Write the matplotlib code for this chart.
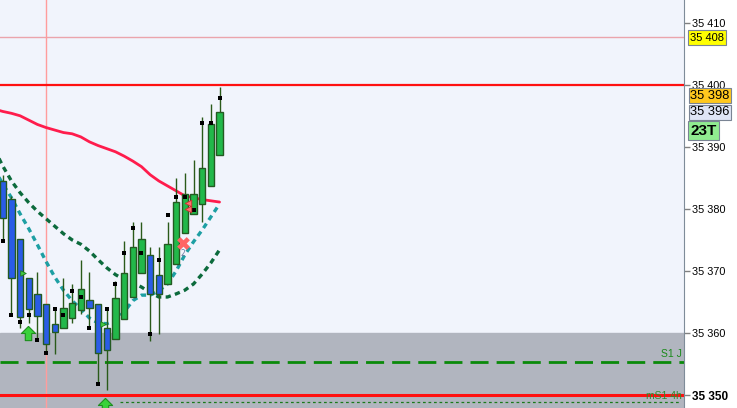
## IMPORTS
import numpy as np
import matplotlib.pyplot as plt
from matplotlib.path import Path

## CANDLE DATA (OHLC), ONE ENTRY PER BAR
opens = [35384.5, 35381.6, 35375.2, 35368.9, 35366.3, 35364.7, 35361.5, 35360.8, 35362.4, 35363.7,
         35365.3, 35364.7, 35360.8, 35359.0, 35362.3, 35365.8, 35369.7, 35372.6, 35369.4, 35367.9,
         35371.1, 35376.1, 35379.2, 35380.8, 35383.7, 35388.7]
highs = [35385.5, 35382.0, 35375.2, 35368.9, 35369.8, 35364.7, 35364.0, 35368.9, 35367.9, 35371.8,
         35369.8, 35364.7, 35364.0, 35368.4, 35374.8, 35377.9, 35377.9, 35373.9, 35373.9, 35377.9,
         35385.0, 35385.8, 35387.9, 35394.8, 35396.9, 35399.7]
lows = [35374.8, 35362.9, 35360.8, 35361.6, 35358.7, 35356.8, 35356.6, 35360.8, 35361.6, 35363.0,
        35360.8, 35351.8, 35350.8, 35359.0, 35362.3, 35365.8, 35369.7, 35358.7, 35359.8, 35367.9,
        35371.1, 35376.1, 35379.2, 35377.9, 35383.7, 35388.7]
closes = [35378.5, 35368.9, 35362.6, 35363.9, 35362.7, 35358.2, 35360.2, 35364.0, 35364.8, 35367.1,
          35364.0, 35356.8, 35357.3, 35365.6, 35369.7, 35373.9, 35375.2, 35366.3, 35366.3, 35374.4,
          35381.1, 35382.4, 35382.4, 35386.6, 35393.7, 35395.6]

## BLACK SQUARE MARKERS, ONE PER BAR
dots = [35374.8, 35362.9, 35361.8, 35362.9, 35358.9, 35356.8, 35363.9, 35362.9, 35366.8, 35365.8,
        35360.8, 35351.8, 35363.9, 35367.9, 35372.9, 35376.9, 35372.9, 35359.8, 35371.8, 35379.0,
        35381.9, 35381.9, 35379.8, 35393.9, 35393.9, 35397.9]

## MOVING AVERAGES (START ONE BAR BEFORE THE FIRST CANDLE)
ma_idx = list(range(-1, 26))
ma_red = [35396.1, 35395.7, 35395.4, 35395.0, 35394.3, 35393.6, 35393.1, 35392.7, 35392.3, 35392.1,
          35391.6, 35390.8, 35390.2, 35389.7, 35389.2, 35388.5, 35387.7, 35386.8, 35385.5, 35384.5,
          35383.7, 35382.9, 35382.1, 35381.8, 35381.5, 35381.3, 35381.1]
ma_dkgreen = [35389.7, 35386.9, 35384.5, 35382.6, 35381.0, 35379.6, 35378.4, 35377.2, 35376.0, 35375.0,
              35374.3, 35373.2, 35371.8, 35370.5, 35369.4, 35368.6, 35368.1, 35367.4, 35366.5, 35365.8,
              35365.8, 35366.3, 35366.9, 35367.9, 35369.5, 35371.3, 35373.4]
ma_teal = [35386.5, 35384.0, 35381.8, 35379.2, 35376.8, 35374.2, 35371.5, 35369.0, 35366.9, 35365.2,
           35363.9, 35362.4, 35361.6, 35361.5, 35362.1, 35363.4, 35365.2, 35366.1, 35366.1, 35366.8,
           35367.9, 35370.0, 35372.6, 35374.7, 35376.6, 35378.7, 35380.8]

## LEVELS
level_top = 35400
level_bottom = 35350
level_s1j = 35355.3
level_ms1 = 35348.9
level_pink = 35407.7
zone_top = 35360
price_ticks = [35350, 35360, 35370, 35380, 35390, 35400, 35410]

## SIGNALS
up_arrows_x = [2.9, 11.8]
up_arrows_y = [35360.0, 35348.4]
flags_x = [2.3, 11.55]
flags_y = [35369.7, 35361.5]
cross_x, cross_y = 20.8, 35374.5
tri_x = [21.4, 21.4]
tri_y = [35380.9, 35380.0]
vline_x = 5

## FIGURE AND AXES
fig = plt.figure(figsize=(7.37, 4.08), dpi=100)
ax = fig.add_axes([0, 0, 684 / 737, 1])
ax.set_facecolor('#f1f4fc')
ax.set_xlim(-0.32, 78.57)
ax.set_ylim(35347.91, 35413.66)

## GREY ZONE UNDER 35360
ax.axhspan(35300, zone_top, color='#b1b5bf', zorder=0)

## HORIZONTAL AND VERTICAL LEVELS
ax.axhline(level_pink, color='#eba4ac', lw=1, zorder=1)
ax.axvline(vline_x, color='#ff9c9c', lw=1, zorder=1)
ax.axhline(level_top, color='#ff1010', lw=1.6, zorder=2)
ax.axhline(level_bottom, color='#ff1010', lw=2.2, zorder=2)
ax.axhline(level_s1j, color='#0a8a0a', lw=2, dashes=(6.5, 2.9), zorder=2)
ax.plot([13.5, 78.2], [level_ms1, level_ms1], color='#1a7a1a', lw=0.9, dashes=(2.2, 2.2), zorder=2)

## MOVING AVERAGES
ax.plot(ma_idx, ma_red, color='#ff1c4c', lw=2, zorder=3, solid_capstyle='round')
ax.plot(ma_idx, ma_dkgreen, color='#0c6a3c', lw=2.4, dashes=(1.6, 1.3), zorder=3)
ax.plot(ma_idx, ma_teal, color='#1d9fa3', lw=2.4, dashes=(1.6, 1.3), zorder=3)

## CANDLES
x = np.arange(len(opens))
o = np.array(opens)
c = np.array(closes)
up = c >= o
ax.vlines(x, lows, highs, color='#2a5a1a', lw=1, zorder=4)
ax.bar(x, np.abs(c - o), bottom=np.minimum(o, c), width=0.74,
       color=np.where(up, '#22b84a', '#2a5ce6'), edgecolor='#245a22', lw=1, zorder=5)

## BLACK SQUARES
ax.scatter(x, dots, marker='s', s=11, color='black', zorder=6, linewidths=0)

## SIGNAL MARKERS
arrow = Path([(0, 1), (-1, 0), (-0.45, 0), (-0.45, -1), (0.45, -1), (0.45, 0), (1, 0), (0, 1)])
ax.scatter(up_arrows_x, up_arrows_y, marker=arrow, s=105, color='#3ad23a', edgecolor='#1e8e1e',
           linewidths=0.8, zorder=7, clip_on=True)
ax.scatter(flags_x, flags_y, marker='>', s=16, color='#44cc44', edgecolor='#1e7e1e', linewidths=0.6, zorder=7)
ax.scatter([cross_x], [cross_y], marker='X', s=85, color='#ff6464', linewidths=0, zorder=7)
ax.text(cross_x, cross_y - 1.7, '2', fontsize=5.5, color='#6a7aa0', ha='center', va='center', zorder=7)
ax.scatter(tri_x, tri_y, marker='<', s=22, color='#ff7070', edgecolor='#cc3030', linewidths=0.6, zorder=7)

## LEVEL NAMES
ax.text(78.3, level_s1j + 0.45, 'S1 J', fontsize=7.5, color='#1a8a1a', ha='right', va='bottom',
        family='Liberation Sans', zorder=8)
ax.text(78.3, level_bottom - 0.2, 'mS1 4h', fontsize=7.5, color='#2e8a2e', ha='right', va='center',
        family='Liberation Sans', zorder=8)

## RIGHT PRICE AXIS
for s in ['top', 'left', 'bottom']:
    ax.spines[s].set_visible(False)
ax.spines['right'].set_color('#7f8c99')
ax.set_xticks([])
ax.yaxis.tick_right()
ax.set_yticks(price_ticks)
ax.set_yticklabels([f'{p // 1000} {p % 1000:03d}' for p in price_ticks])
ax.tick_params(axis='y', length=4, width=1, color='#808080', pad=2, labelsize=7.8)
for lab in ax.get_yticklabels():
    lab.set_family('Liberation Sans')
    if lab.get_text() == '35 350':
        lab.set_fontweight('bold')
        lab.set_fontsize(8.5)

## PRICE BOXES ON THE AXIS
trans = ax.get_yaxis_transform()
def box(y, text, face, size=7.8, weight='normal', pad=0.2):
    ax.text(1.009, y, text, transform=trans, fontsize=size, fontweight=weight, family='Liberation Sans',
            va='center', ha='left', clip_on=False, zorder=10,
            bbox=dict(boxstyle=f'square,pad={pad}', facecolor=face, edgecolor='#7a8494', lw=0.8))

box(35407.6, '35 408', '#ffff00', size=8)
box(35398.2, '35 398', '#ffc81e', size=9.3, pad=0.12)
box(35395.6, '35 396', '#dfe5f5', size=9.3, pad=0.12)
box(35392.6, '23T', '#90ec90', size=11, weight='bold', pad=0.15)

plt.savefig('out.png', dpi=100)
